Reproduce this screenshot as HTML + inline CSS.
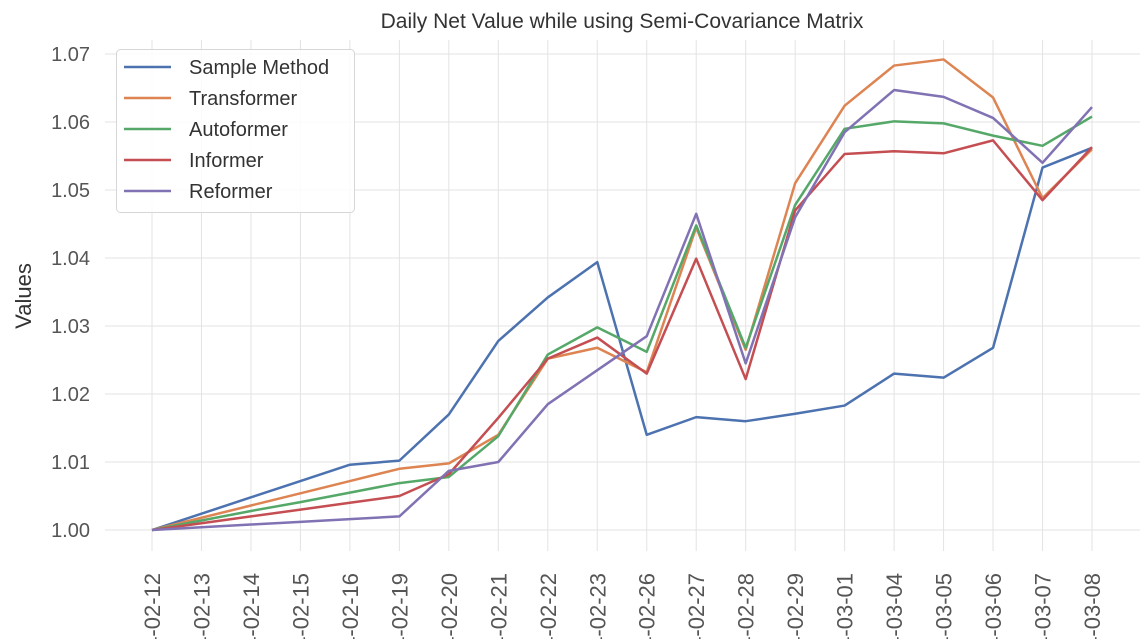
<!DOCTYPE html>
<html><head><meta charset="utf-8"><style>
html,body{margin:0;background:#fff;width:1143px;height:639px;overflow:hidden;}
svg{display:block;}
svg text{font-family:"Liberation Sans",sans-serif;}
</style></head><body>
<svg id="chart" width="1143" height="639" viewBox="0 0 1143 639" xmlns="http://www.w3.org/2000/svg">
<g id="grid"></g>
<g id="lines"></g>
<g id="axes"></g>
<text x="622" y="28" text-anchor="middle" font-size="21" fill="#333">Daily Net Value while using Semi-Covariance Matrix</text>
<text transform="translate(31,296) rotate(-90)" text-anchor="middle" font-size="22" fill="#333">Values</text>
<g id="legend"></g>
</svg>
<script>
const categories=["2024-02-12","2024-02-13","2024-02-14","2024-02-15","2024-02-16","2024-02-19","2024-02-20","2024-02-21","2024-02-22","2024-02-23","2024-02-26","2024-02-27","2024-02-28","2024-02-29","2024-03-01","2024-03-04","2024-03-05","2024-03-06","2024-03-07","2024-03-08"];
const seriesNames=["Sample Method","Transformer","Autoformer","Informer","Reformer"];
const sampleMethod=[1.000,1.0024,1.0048,1.0072,1.0096,1.0102,1.017,1.0278,1.0342,1.0394,1.014,1.0166,1.016,1.0171,1.0183,1.023,1.0224,1.0268,1.0533,1.0562];
const transformer=[1.000,1.0018,1.0036,1.0054,1.0072,1.009,1.0098,1.014,1.0252,1.0268,1.0232,1.0445,1.0265,1.051,1.0624,1.0683,1.0692,1.0636,1.0488,1.056];
const autoformer=[1.000,1.0014,1.0028,1.0041,1.0055,1.0069,1.0078,1.0138,1.0258,1.0298,1.0262,1.0448,1.0268,1.0478,1.059,1.0601,1.0598,1.058,1.0565,1.0608];
const informer=[1.000,1.001,1.002,1.003,1.004,1.005,1.0082,1.0165,1.0252,1.0283,1.023,1.0399,1.0222,1.047,1.0553,1.0557,1.0554,1.0573,1.0485,1.0563];
const reformer=[1.000,1.0004,1.0008,1.0012,1.0016,1.002,1.0087,1.0100,1.0185,1.0235,1.0285,1.0465,1.0245,1.046,1.0585,1.0647,1.0637,1.0606,1.054,1.0622];
const yTicks=[1.00,1.01,1.02,1.03,1.04,1.05,1.06,1.07];
const colors=["#4c72b0","#dd8452","#55a868","#c44e52","#8172b3"];
const NS="http://www.w3.org/2000/svg";
const X0=152,X1=1092,Y0=530,Y1=54,V0=1.00,V1=1.07;
function xs(i){return X0+(X1-X0)*i/(categories.length-1);}
function ys(v){return Y0+(Y1-Y0)*(v-V0)/(V1-V0);}
function mk(tag,attrs,parent){const e=document.createElementNS(NS,tag);for(const k in attrs)e.setAttribute(k,attrs[k]);parent.appendChild(e);return e;}
const grid=document.getElementById('grid'),axes=document.getElementById('axes'),lines=document.getElementById('lines'),legend=document.getElementById('legend');
yTicks.forEach(v=>{
 const l=mk('line',{x1:105,x2:1140,y1:ys(v),y2:ys(v),stroke:'#e3e3e3','stroke-width':1},grid);
 
 
 const t=mk('text',{x:90,y:ys(v)+7,'text-anchor':'end','font-size':20,fill:'#555'},axes);
 
 
 t.textContent=v.toFixed(2);
});
categories.forEach((c,i)=>{
 const l=mk('line',{x1:xs(i),x2:xs(i),y1:40,y2:551,stroke:'#e3e3e3','stroke-width':1},grid);
 
 
 const t=mk('text',{transform:`translate(${xs(i)+8},573) rotate(-90)`,'text-anchor':'end','font-size':22,fill:'#555'},axes);
 
 
 t.textContent=c;
});
const allSeries=[sampleMethod,transformer,autoformer,informer,reformer];
allSeries.forEach((s,k)=>{
 const p=mk('polyline',{points:s.map((v,i)=>xs(i)+','+ys(v)).join(' '),fill:'none',stroke:colors[k],'stroke-width':2.5,'stroke-linejoin':'round'},lines);
 
 
});
const box=mk('rect',{x:116.5,y:49.5,width:238,height:163,rx:4,fill:'#fff','fill-opacity':0.85,stroke:'#d6d6d6'},legend);


seriesNames.forEach((n,k)=>{
 const y=67+k*31;
 const g=mk('g',{},legend);
 
 
 mk('line',{x1:124,x2:171,y1:y,y2:y,stroke:colors[k],'stroke-width':2.5},g);
 const t=mk('text',{x:189,y:y+7,'font-size':20,fill:'#333'},g);
 t.textContent=n;
});
</script>
</body></html>
